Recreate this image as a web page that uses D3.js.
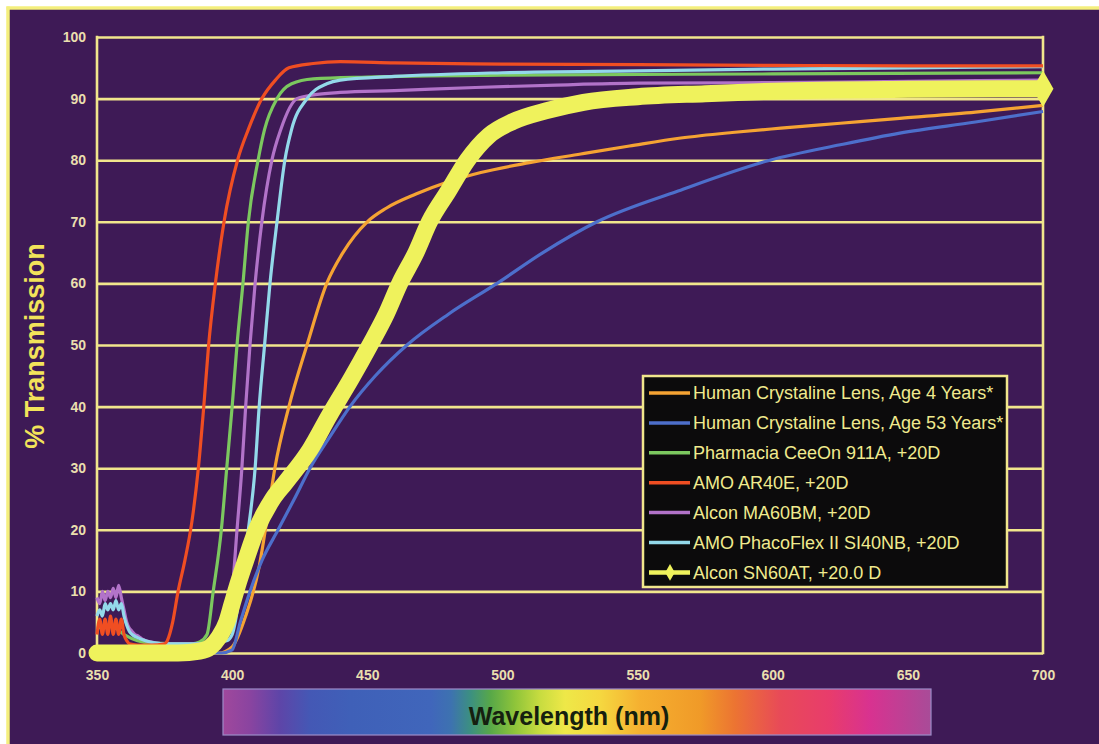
<!DOCTYPE html>
<html>
<head>
<meta charset="utf-8">
<script src="https://cdn.jsdelivr.net/npm/d3@7"></script>
<style>
  html, body { margin: 0; padding: 0; background: #ffffff; }
  svg { display: block; }
</style>
</head>
<body>
<svg id="chart" width="1099" height="744"></svg>
<script>
// ---------------- DATA ----------------
const xTicks = [350, 400, 450, 500, 550, 600, 650, 700];
const yTicks = [0, 10, 20, 30, 40, 50, 60, 70, 80, 90, 100];

const seriesNames = [
  "Human Crystaline Lens, Age 4 Years*",
  "Human Crystaline Lens, Age 53 Years*",
  "Pharmacia CeeOn 911A, +20D",
  "AMO AR40E, +20D",
  "Alcon MA60BM, +20D",
  "AMO PhacoFlex II SI40NB, +20D",
  "Alcon SN60AT, +20.0 D"
];
const seriesColors = ["#f5a333", "#4d6fcb", "#7cc85f", "#f04e22", "#b273c9", "#93d9ea", "#eff25c"];

// [wavelength nm, % transmission]
const age4Years = [[350,0],[395,0],[400,1],[405,6],[410,14],[413,22],[415.8,30],[421,40],[427.7,50],[435,60],[441,65],[450,70],[457,72.2],[468,74.5],[480,76.5],[492,78],[510,79.6],[529,81],[547,82.3],[566,83.6],[585,84.5],[603,85.2],[625,86],[647,86.8],[675,87.8],[700,88.9]];
const age53Years = [[350,0],[396,0],[400,0.5],[403,5],[406.6,10],[411,15],[417,20],[423,25],[428.8,30],[436,35],[443.6,40],[453,45],[464.7,50],[480,55],[498,60],[515,65],[535,70],[565,75],[599,80],[625,82.5],[647,84.4],[675,86.2],[700,87.9]];
const ceeOn911A = [[350,4],[355,4.5],[360,3],[365,2],[370,1.6],[385,1.5],[388,1.8],[390.7,3],[393,10],[396,20],[398,30],[400,40],[401.8,50],[404,60],[406,70],[409.6,80],[412,85],[416.6,90],[422,92.4],[430,93.2],[450,93.5],[500,93.8],[600,94],[700,94.2]];
const amoAR40E = [[350,3],[351,5.5],[352,3],[353,5.5],[354,3],[355,6],[356,3],[357,5.5],[358,3],[359,5.5],[360,3],[361,2],[362,1.5],[365,1.3],[370,1.3],[375,1.5],[376,2],[378,5],[380,10],[382.5,15],[385,21],[387.5,30],[389.5,40],[391.3,50],[393.8,60],[397,70],[402,80],[406,85],[411,90],[416,93],[421,95],[430,95.7],[440,96],[460,95.8],[500,95.6],[550,95.5],[600,95.4],[650,95.3],[700,95.3]];
const alconMA60BM = [[350,9],[351,8],[352,10],[353,8.5],[354,10],[355,9],[356,10.5],[357,9],[358,11],[359,9],[360,7],[361,5],[362,4],[363,3.5],[364,3],[365,2.8],[366,2.5],[367,2.2],[368,2],[370,1.8],[372,1.6],[375,1.5],[390,1.5],[395,2.5],[398,5],[400,10],[401.8,20],[403.6,30],[405,40],[406.6,50],[408.5,60],[411,70],[414.7,80],[418,85],[424,90],[430,90.6],[440,91],[460,91.3],[490,91.8],[520,92.2],[550,92.5],[600,92.6],[650,92.8],[700,93]];
const phacoFlexSI40NB = [[350,6],[351,7],[352,6],[353,8],[354,7],[355,8],[356,7],[357,8.5],[358,7],[359,8],[360,6],[361,4.5],[362,3.5],[363,3],[365,2.5],[368,2],[372,1.6],[375,1.5],[390,1.5],[398,2],[400,3],[403,10],[406,20],[408.5,30],[410,40],[412,50],[414,60],[416.6,70],[419.5,80],[422,85],[427.7,90],[435,92.4],[440,93],[460,93.6],[500,94.2],[550,94.5],[600,94.8],[650,95],[700,95.2]];
const alconSN60AT = [[350,0],[360,0],[370,0],[380,0],[388,0.3],[392,1],[395,2.5],[398,5],[400,8],[402,11],[405,15],[409,20],[415,25],[419.6,27.6],[428.8,33],[436,38.6],[444,44.5],[451,50],[457,55],[462,60],[468,65],[473,70],[480,75],[487,80],[495,84],[504,86.3],[516,88],[530,89.4],[550,90.3],[575,90.8],[600,91.2],[650,91.5],[700,91.6]];

const seriesData = [age4Years, age53Years, ceeOn911A, amoAR40E, alconMA60BM, phacoFlexSI40NB, alconSN60AT];

// Colour bar stops (spectrum image under the x axis)
const spectrumOffsets = [0, 0.038, 0.08, 0.123, 0.18, 0.294, 0.322, 0.35, 0.378, 0.412, 0.448, 0.483, 0.532, 0.589, 0.674, 0.723, 0.787, 0.857, 0.914, 1];
const spectrumColors = ["#a0489c", "#8a44a0", "#5e45a8", "#4458b5", "#3f60b8", "#4066bb", "#3d72b0", "#3c9080", "#58a848", "#8ec43a", "#c8dc40", "#eee848", "#f5d840", "#f5b030", "#f09a28", "#ec7432", "#e84a58", "#e83c6c", "#d83290", "#a84c98"];

// ---------------- LAYOUT ----------------
const svg = d3.select("#chart");
const W = 1099, H = 744;
const plot = { left: 97, right: 1043, top: 37, bottom: 653 };
const bg = "#3e1a56";
const gridColor = "#f1e68c";
const labelColor = "#eadfae";

const x = d3.scaleLinear().domain([350, 700]).range([plot.left, plot.right]);
const y = d3.scaleLinear().domain([0, 100]).range([plot.bottom, plot.top]);

// page background + frame
svg.append("rect").attr("x", 0).attr("y", 0).attr("width", W).attr("height", H).attr("fill", "#ffffff");
svg.append("rect").attr("x", 8).attr("y", 8).attr("width", W).attr("height", H).attr("fill", bg);
svg.append("line").attr("x1", 8).attr("x2", 8).attr("y1", 6.5).attr("y2", H).attr("stroke", "#f4ef7c").attr("stroke-width", 3.5);
svg.append("line").attr("x1", 6.5).attr("x2", W).attr("y1", 8).attr("y2", 8).attr("stroke", "#f4ef7c").attr("stroke-width", 3.5);

// Y axis with grid lines
const yAxis = svg.append("g")
  .attr("transform", `translate(${plot.left},0)`)
  .call(d3.axisLeft(y).tickValues(yTicks).tickSize(-(plot.right - plot.left)).tickPadding(11).tickFormat(d3.format("d")));
yAxis.select(".domain").remove();
yAxis.selectAll(".tick line").attr("stroke", gridColor).attr("stroke-width", 2.6);
yAxis.selectAll(".tick text")
  .attr("fill", labelColor).attr("font-family", "'Liberation Sans', Arial, sans-serif")
  .attr("font-weight", "bold").attr("font-size", 14);

// vertical frame lines
svg.append("line").attr("x1", plot.left).attr("x2", plot.left).attr("y1", plot.top - 1.3).attr("y2", plot.bottom + 1.3)
  .attr("stroke", gridColor).attr("stroke-width", 2.6);
svg.append("line").attr("x1", plot.right).attr("x2", plot.right).attr("y1", plot.top - 1.3).attr("y2", plot.bottom + 1.3)
  .attr("stroke", gridColor).attr("stroke-width", 2.6);

// X axis labels
const xAxis = svg.append("g")
  .attr("transform", `translate(0,${plot.bottom})`)
  .call(d3.axisBottom(x).tickValues(xTicks).tickSize(0).tickPadding(17).tickFormat(d3.format("d")));
xAxis.select(".domain").remove();
xAxis.selectAll(".tick text")
  .attr("fill", labelColor).attr("font-family", "'Liberation Sans', Arial, sans-serif")
  .attr("font-weight", "bold").attr("font-size", 14);

// Y title
svg.append("text")
  .attr("transform", `translate(44,346) rotate(-90)`)
  .attr("text-anchor", "middle")
  .attr("fill", "#f2e35a")
  .attr("font-family", "'Liberation Sans', Arial, sans-serif")
  .attr("font-weight", "bold").attr("font-size", 27)
  .text("% Transmission");

// ---------------- SERIES ----------------
const line = d3.line().x(d => x(d[0])).y(d => y(d[1])).curve(d3.curveMonotoneX);
const gSeries = svg.append("g");
const drawOrder = [0, 1, 2, 4, 5, 3, 6];
drawOrder.forEach(i => {
  const isYellow = i === 6;
  gSeries.append("path")
    .datum(seriesData[i])
    .attr("d", line)
    .attr("fill", "none")
    .attr("stroke", seriesColors[i])
    .attr("stroke-width", isYellow ? 17 : 3.2)
    .attr("stroke-linejoin", "round")
    .attr("stroke-linecap", isYellow ? "round" : "butt");
});
// diamond at the end of the Alcon SN60AT curve
const lastPt = alconSN60AT[alconSN60AT.length - 1];
gSeries.append("path")
  .attr("d", d3.symbol().type(d3.symbolDiamond).size(380)())
  .attr("transform", `translate(${x(lastPt[0])},${y(lastPt[1])})`)
  .attr("fill", seriesColors[6]);

// ---------------- LEGEND ----------------
const lg = svg.append("g");
const lgBox = { x: 643, y: 376, w: 364, h: 211 };
lg.append("rect").attr("x", lgBox.x).attr("y", lgBox.y).attr("width", lgBox.w).attr("height", lgBox.h)
  .attr("fill", "#0c0b0c").attr("stroke", gridColor).attr("stroke-width", 2.5);
seriesNames.forEach((name, i) => {
  const cy = 393 + i * 29.9;
  lg.append("line").attr("x1", 649).attr("x2", 690).attr("y1", cy).attr("y2", cy)
    .attr("stroke", seriesColors[i]).attr("stroke-width", i === 6 ? 4.5 : 3.5);
  if (i === 6) {
    lg.append("path").attr("d", d3.symbol().type(d3.symbolDiamond).size(80)())
      .attr("transform", `translate(670,${cy})`).attr("fill", seriesColors[i]);
  }
  lg.append("text").attr("x", 693).attr("y", cy).attr("dy", "0.35em")
    .attr("fill", "#f0ea8e").attr("font-family", "'Liberation Sans', Arial, sans-serif")
    .attr("font-size", 18).text(name);
});

// ---------------- SPECTRUM BAR ----------------
const defs = svg.append("defs");
const grad = defs.append("linearGradient").attr("id", "spectrum").attr("x1", "0%").attr("x2", "100%").attr("y1", "0%").attr("y2", "0%");
spectrumOffsets.forEach((o, i) => grad.append("stop").attr("offset", o).attr("stop-color", spectrumColors[i]));
svg.append("rect").attr("x", 223).attr("y", 689).attr("width", 708).attr("height", 46)
  .attr("fill", "url(#spectrum)").attr("stroke", "#9d8cc8").attr("stroke-width", 1.2);
svg.append("text").attr("x", 569).attr("y", 725).attr("text-anchor", "middle")
  .attr("fill", "#15200f").attr("font-family", "'Liberation Sans', Arial, sans-serif")
  .attr("font-weight", "bold").attr("font-size", 25).text("Wavelength (nm)");
</script>
</body>
</html>
